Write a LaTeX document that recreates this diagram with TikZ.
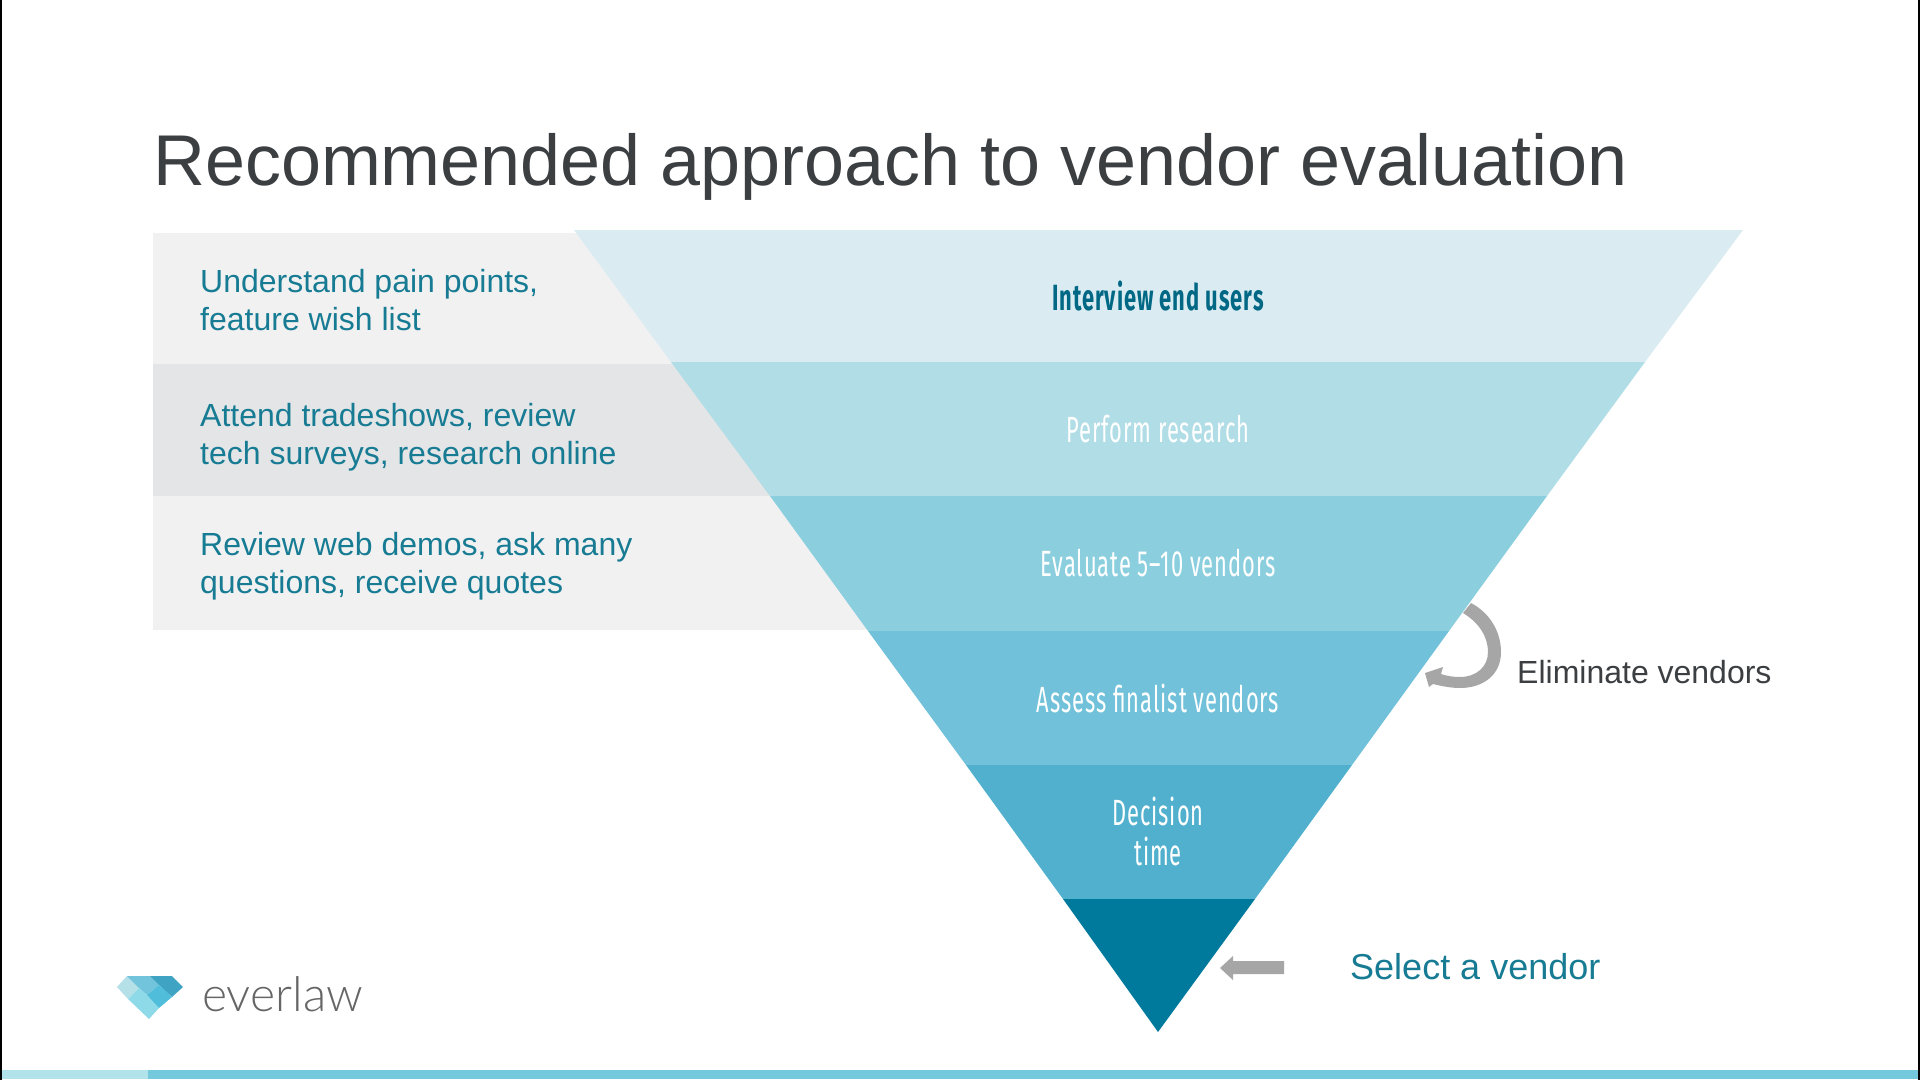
\documentclass[tikz,border=0pt]{standalone}
\usepackage{fontspec}
\setmainfont{Liberation Sans}
\newfontfamily\condfont[FakeStretch=0.6,LetterSpace=2.6]{Fira Sans}
\newfontfamily\logofont[UprightFont=* Light]{Lato}
\definecolor{titlegray}{HTML}{3C3F42}
\definecolor{teal}{HTML}{177C93}
\definecolor{rowa}{HTML}{F1F1F2}
\definecolor{rowb}{HTML}{E3E5E7}
\definecolor{banda}{HTML}{DAECF2}
\definecolor{bandb}{HTML}{B1DDE6}
\definecolor{bandc}{HTML}{8BCFDF}
\definecolor{bandd}{HTML}{70C1D9}
\definecolor{bande}{HTML}{50B0CD}
\definecolor{bandf}{HTML}{007A9C}
\definecolor{arrowgray}{HTML}{A6A6A6}
\definecolor{stripa}{HTML}{B2E2EA}
\definecolor{stripb}{HTML}{74C9DC}
\definecolor{loga}{HTML}{B5E0E8}
\definecolor{logb}{HTML}{72C3DC}
\definecolor{logc}{HTML}{3FA3C4}
\definecolor{logd}{HTML}{8FDAE8}
\definecolor{loge}{HTML}{50BEDA}
\tikzset{
  bandlabel/.style={font=\condfont\fontsize{36.5}{40}\selectfont, text=white, align=center, inner sep=0pt},
  sidetext/.style={font=\fontsize{32}{38.5}\selectfont, text=teal, align=left, anchor=west, inner sep=0pt},
}
\begin{document}
\begin{tikzpicture}[x=1pt,y=-1pt]
\useasboundingbox (0,0) rectangle (1920,1080);
\fill[white] (0,0) rectangle (1920,1080);
% left rows
\fill[rowa] (153,233) rectangle (700,364);
\fill[rowb] (153,364) rectangle (800,496);
\fill[rowa] (153,496) rectangle (900,630);
% bands
\fill[banda] (574,230) -- (1743,230) -- (1645,362) -- (671,362) -- cycle;
\fill[bandb] (671,362) -- (1645,362) -- (1547,496) -- (770,496) -- cycle;
\fill[bandc] (770,496) -- (1547,496) -- (1449,631) -- (868,631) -- cycle;
\fill[bandd] (868,631) -- (1449,631) -- (1352,765) -- (966,765) -- cycle;
\fill[bande] (966,765) -- (1352,765) -- (1255,899) -- (1063,899) -- cycle;
\fill[bandf] (1063,899) -- (1255,899) -- (1158,1032) -- cycle;
% band labels
\node[bandlabel, text=bandf!85!black, font=\condfont\bfseries\fontsize{36.5}{40}\selectfont] (l1) at (1158,296) {Interview end users};
\node[bandlabel] (l2) at (1158,429) {Perform research};
\node[bandlabel] (l3) at (1158,563) {Evaluate 5–10 vendors};
\node[bandlabel] (l4) at (1158,698) {Assess finalist vendors};
\node[bandlabel] (l5) at (1158,831) {Decision\\time};
% title
\node[anchor=west, inner sep=0pt, text=titlegray, font=\fontsize{71.9}{80}\selectfont] (title) at (153,167) {Recommended approach to vendor evaluation};
% side texts
\node[sidetext] (s1) at (200,300) {Understand pain points,\\feature wish list};
\node[sidetext] (s2) at (200,437) {Attend tradeshows, review\\tech surveys, research online};
\node[sidetext] (s3) at (200,566) {Review web demos, ask many\\questions, receive quotes};
% eliminate
\node[anchor=west, inner sep=0pt, text=titlegray, font=\fontsize{32}{38}\selectfont] (elim) at (1517,672) {Eliminate vendors};
\fill[arrowgray] (1471,603) .. controls (1490,613) and (1501,632) .. (1501,652)
  .. controls (1501,675) and (1483,688) .. (1460,688)
  .. controls (1451,688) and (1441,686) .. (1433,684)
  -- (1429,687) -- (1425,673) -- (1443,667) -- (1441,674)
  .. controls (1447,676) and (1453,677) .. (1460,677)
  .. controls (1476,677) and (1488,667) .. (1488,652)
  .. controls (1488,636) and (1478,622) .. (1463,613) -- cycle;
% select
\node[anchor=west, inner sep=0pt, text=teal, font=\fontsize{36}{42}\selectfont] (sel) at (1350,967) {Select a vendor};
\fill[arrowgray] (1284,961) -- (1233,961) -- (1233,956) -- (1220,968) -- (1233,980) -- (1233,974) -- (1284,974) -- cycle;
% logo
\fill[loga] (117,987) -- (127,976) -- (139,988) -- (128,999) -- cycle;
\fill[logb] (127,976) -- (150,976) -- (159,985) -- (147,995) -- (139,988) -- cycle;
\fill[logc] (150,976) -- (172,976) -- (183,987) -- (172,997) -- (159,985) -- cycle;
\fill[logd] (128,999) -- (139,988) -- (147,995) -- (159,1008) -- (149,1019) -- cycle;
\fill[loge] (147,995) -- (159,985) -- (172,997) -- (159,1008) -- cycle;
\node[anchor=west, inner sep=0pt, text=black!60, font=\logofont\fontsize{48}{50}\selectfont] (logo) at (202,994) {everlaw};
% bottom strip
\fill[stripa] (0,1070) rectangle (148,1079);
\fill[stripb] (148,1070) rectangle (1918,1079);
% page edges
\fill[black] (0,0) rectangle (2,1080);
\fill[black] (1918,0) rectangle (1920,1080);
\end{tikzpicture}
\end{document}
